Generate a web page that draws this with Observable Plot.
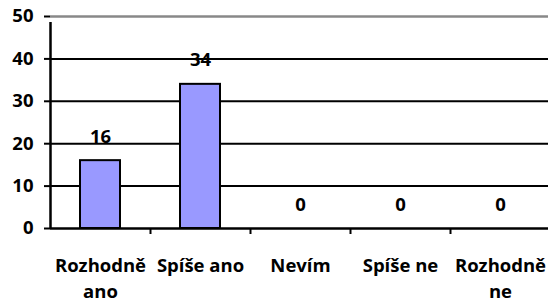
<!DOCTYPE html>
<html><head><meta charset="utf-8">
<script src="https://cdn.jsdelivr.net/npm/d3@7"></script>
<script src="https://cdn.jsdelivr.net/npm/@observablehq/plot@0.6"></script>
<style>body{margin:0;background:#fff} svg{display:block}</style>
</head><body><div id="chart"></div>
<script>
const categories = ["Rozhodně ano","Spíše ano","Nevím","Spíše ne","Rozhodně ne"];
const labelLines = ["Rozhodně\nano","Spíše ano","Nevím","Spíše ne","Rozhodně\nne"];
const values = [16,34,0,0,0];
const yTicks = [0,10,20,30,40,50];
const gridBlack = [10,20,30,40];
const gridTop = [50];

const data = categories.map((c,i)=>({category:c, value:values[i], label:labelLines[i]}));
const font = "'Open Sans', sans-serif";
const chart = Plot.plot({
  width:548, height:299, marginLeft:50, marginRight:0, marginTop:16, marginBottom:71,
  style:{fontFamily:font, fontWeight:"bold", fontSize:"18.5px", color:"black", background:"white"},
  x:{domain:categories, range:[50,550], paddingInner:0.6, paddingOuter:0.3, axis:null},
  y:{domain:[0,50], axis:null},
  marks:[
    Plot.ruleY(gridBlack, {y:d=>d, stroke:"black", strokeWidth:2}),
    Plot.ruleY(gridTop, {y:d=>d, stroke:"#888", strokeWidth:2.5}),
    Plot.barY(data, {x:"category", y:"value", fill:"#9999ff", stroke:"black", strokeWidth:2}),
    Plot.ruleY([0], {y:d=>d, stroke:"black", strokeWidth:2.5}),
    Plot.ruleX(categories.slice(1), {x:d=>d, dx:-50, y1:0, y2:0, insetBottom:-6, stroke:"black", strokeWidth:2}),
    Plot.ruleX(categories.slice(0,1), {x:d=>d, dx:-50, y1:0, y2:50, insetBottom:-6, stroke:"black", strokeWidth:2.5}),
    Plot.axisY(yTicks, {label:null, tickSize:6, tickPadding:11, strokeWidth:2, fontSize:18.5, fontWeight:"bold"}),
    Plot.text(data, {x:"category", y:"value", text:d=>String(d.value), dy:-18, lineAnchor:"bottom", fontSize:18.5, fontWeight:"bold", fill:"black"}),
    Plot.text(data, {x:"category", y:()=>0, text:"label", lineAnchor:"top", dy:26, lineHeight:1.36, fontSize:18.5, fontWeight:"bold", fill:"black"})
  ]
});
document.getElementById("chart").appendChild(chart);
</script>
</body></html>
